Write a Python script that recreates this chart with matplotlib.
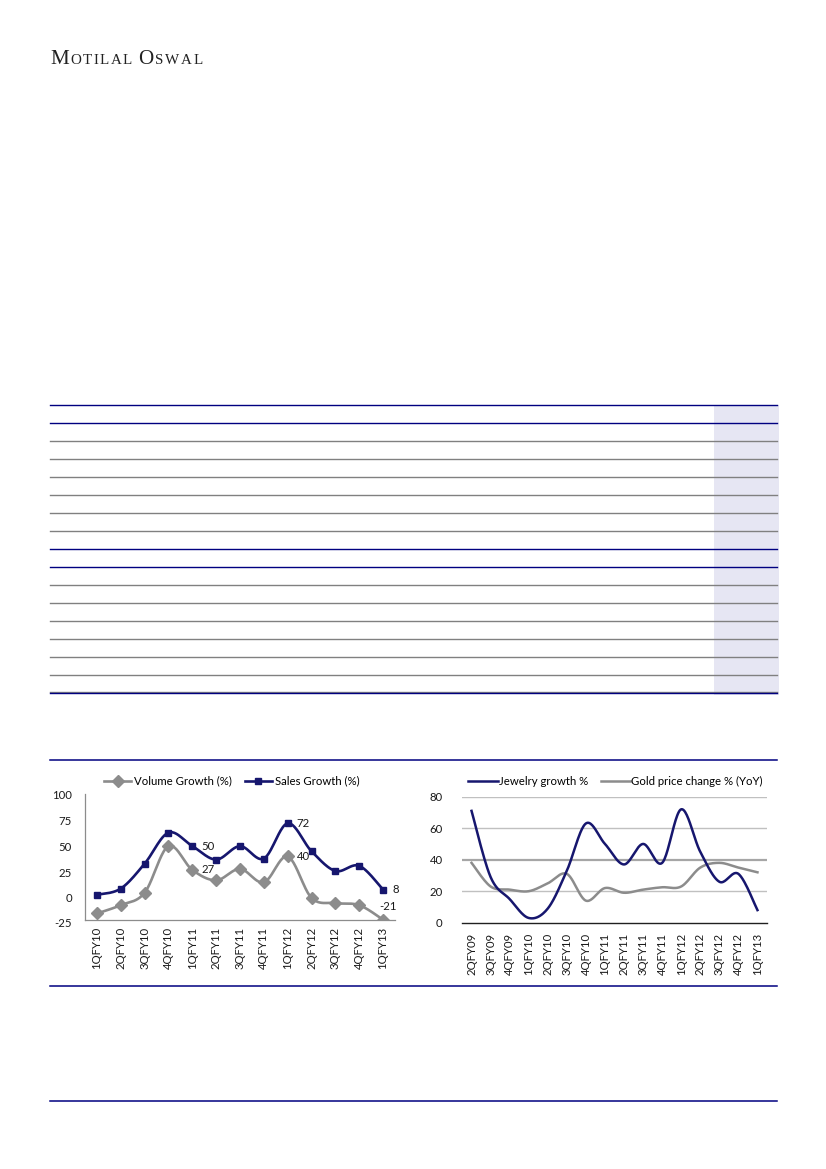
import numpy as np
import matplotlib
matplotlib.use("Agg")
import matplotlib.pyplot as plt
from matplotlib.lines import Line2D
from matplotlib.transforms import offset_copy

plt.rcParams['font.family'] = ['Lato', 'DejaVu Sans']

# ---------------- data ----------------
left_quarters = ["1QFY10", "2QFY10", "3QFY10", "4QFY10", "1QFY11", "2QFY11", "3QFY11",
                 "4QFY11", "1QFY12", "2QFY12", "3QFY12", "4QFY12", "1QFY13"]
volume_growth = [-15, -7, 5, 50, 27, 17, 28, 15, 40, 0, -5, -7, -21]
sales_growth = [3, 9, 33, 63, 50, 37, 50, 38, 72, 45, 26, 31, 8]
left_labels_sales = {4: "50", 8: "72", 12: "8"}
left_labels_volume = {4: "27", 8: "40"}
left_yticks = [100, 75, 50, 25, 0, -25]

right_quarters = ["2QFY09", "3QFY09", "4QFY09", "1QFY10", "2QFY10", "3QFY10", "4QFY10",
                  "1QFY11", "2QFY11", "3QFY11", "4QFY11", "1QFY12", "2QFY12", "3QFY12",
                  "4QFY12", "1QFY13"]
jewelry_growth = [71, 29, 15, 3, 9, 33, 63, 50, 37, 50, 38, 72, 45, 26, 31, 8]
gold_price_change = [38, 23, 21, 20, 25, 31, 14, 22, 19, 21, 22.5, 23, 35, 38, 35, 32]
right_yticks = [0, 20, 40, 60, 80]

NAVY = '#16166e'
GREY = '#8c8c8c'
TXT = '#1a1a1a'
FS = 8.2

W, H = 826, 1169
fig = plt.figure(figsize=(W / 100, H / 100), dpi=100)


def smooth(xs, ys, n=24):
    xs = np.asarray(xs, float)
    ys = np.asarray(ys, float)
    px = np.concatenate([[xs[0]], xs, [xs[-1]]])
    py = np.concatenate([[ys[0]], ys, [ys[-1]]])
    outx, outy = [], []
    t = np.linspace(0, 1, n, endpoint=False)
    for i in range(1, len(px) - 2):
        for P, out in ((px, outx), (py, outy)):
            p0, p1, p2, p3 = P[i - 1], P[i], P[i + 1], P[i + 2]
            c1 = p1 + (p2 - p0) / 6.0
            c2 = p2 - (p3 - p1) / 6.0
            b = ((1 - t) ** 3) * p1 + 3 * ((1 - t) ** 2) * t * c1 + 3 * (1 - t) * t ** 2 * c2 + t ** 3 * p2
            out.extend(b)
    outx.append(xs[-1])
    outy.append(ys[-1])
    return np.array(outx), np.array(outy)


def px_axes(x0, y0, x1, y1, **kw):
    return fig.add_axes([x0 / W, 1 - y1 / H, (x1 - x0) / W, (y1 - y0) / H], **kw)


# ---------------- page layout layer ----------------
bg = fig.add_axes([0, 0, 1, 1])
bg.set_xlim(0, W)
bg.set_ylim(H, 0)
bg.axis('off')


def small_caps(x, y, word_parts, big=15.2, small=10.8, track=1.5):
    r = fig.canvas.get_renderer()
    for part in word_parts:
        for k, ch in enumerate(part):
            size = big if k == 0 else small
            t = bg.text(x, y, ch.upper(), fontsize=size, family='Liberation Serif',
                        color='#222222', va='baseline', ha='left')
            bb = t.get_window_extent(renderer=r)
            x += bb.width + track
        x += 5


small_caps(50, 64, ["Motilal", "Oswal"])

# table skeleton
tbl_x0, tbl_x1 = 50, 777
row_y0, row_step, n_lines = 404.5, 18, 17
navy_rows = {0, 1, 8, 9}
bg.add_patch(plt.Rectangle((714, row_y0), 65, row_step * (n_lines - 1) + 2,
                           facecolor='#e6e6f3', edgecolor='none', zorder=0))
for i in range(n_lines):
    yy = row_y0 + i * row_step
    if i == n_lines - 1:
        bg.plot([tbl_x0, tbl_x1], [yy - 0.6, yy - 0.6], color='#808080', lw=1.0, zorder=2)
        bg.plot([tbl_x0, tbl_x1], [yy + 0.9, yy + 0.9], color='#000080', lw=1.0, zorder=2)
    else:
        c = '#000080' if i in navy_rows else '#808080'
        bg.plot([tbl_x0, tbl_x1], [yy, yy], color=c, lw=1.0, zorder=2)

# chart frame lines and footer
for yy in (759.5, 985.5, 1100.5):
    bg.plot([tbl_x0, tbl_x1], [yy, yy], color='#000080', lw=1.1)

# ---------------- left chart ----------------
ax1 = px_axes(85, 794.3, 395, 920)
xl = np.arange(len(left_quarters))
vx, vy = smooth(xl, volume_growth)
sx, sy = smooth(xl, sales_growth)
ax1.plot(vx, vy, color=GREY, lw=1.9, zorder=2)
ax1.plot(xl, volume_growth, ls='none', marker='D', ms=5.8, color=GREY, zorder=3)
ax1.plot(sx, sy, color=NAVY, lw=1.9, zorder=4)
ax1.plot(xl, sales_growth, ls='none', marker='s', ms=5.0, color=NAVY, zorder=5)
ax1.set_xlim(-0.5, len(left_quarters) - 0.5)
ax1.set_ylim(-21.3, 100)
ax1.set_yticks([v for v in left_yticks if v >= -21])
ax1.set_yticklabels([str(v) for v in left_yticks if v >= -21])
ax1.text(-0.5, left_yticks[-1], str(left_yticks[-1]),
         transform=offset_copy(ax1.transData, fig=fig, x=-9.5, y=0, units='points'),
         ha='right', va='center', fontsize=FS, color=TXT, clip_on=False)
ax1.set_xticks(xl)
ax1.set_xticklabels(left_quarters, rotation=90, fontsize=FS, color=TXT)
for s in ('top', 'right'):
    ax1.spines[s].set_visible(False)
for s in ('left', 'bottom'):
    ax1.spines[s].set_color('#8c8c8c')
    ax1.spines[s].set_linewidth(0.9)
ax1.tick_params(axis='y', length=0, pad=9.5, labelsize=FS, labelcolor=TXT)
ax1.tick_params(axis='x', length=0, pad=5)
ax1.set_facecolor('none')

for i, s in left_labels_sales.items():
    ax1.annotate(s, (xl[i], sales_growth[i]), xytext=(9, 0), textcoords='offset pixels',
                 ha='left', va='center', fontsize=FS, color=TXT)
for i, s in left_labels_volume.items():
    ax1.annotate(s, (xl[i], volume_growth[i]), xytext=(9, 0), textcoords='offset pixels',
                 ha='left', va='center', fontsize=FS, color=TXT)
ax1.annotate(str(volume_growth[-1]), (xl[-1], volume_growth[-1]), xytext=(-4, 13),
             textcoords='offset pixels', ha='left', va='center', fontsize=FS, color=TXT)

h1 = [Line2D([], [], color=GREY, lw=1.9, marker='D', ms=5.8),
      Line2D([], [], color=NAVY, lw=1.9, marker='s', ms=5.0)]
fig.legend(h1, ["Volume Growth (%)", "Sales Growth (%)"], ncol=2, frameon=False,
           loc='center left', bbox_to_anchor=(104 / W, 1 - 781 / H), fontsize=FS,
           handlelength=2.4, handletextpad=0.25, columnspacing=1.1, borderaxespad=0,
           borderpad=0)

# ---------------- right chart ----------------
ax2 = px_axes(462, 796.7, 767, 922.7)
xr = np.arange(len(right_quarters))
jx, jy = smooth(xr, jewelry_growth)
gx, gy = smooth(xr, gold_price_change)
for v in right_yticks[1:]:
    ax2.axhline(v, color='#a6a6a6' if v == 40 else '#c0c0c0', lw=1.6 if v == 40 else 1.0, zorder=0)
ax2.plot(gx, gy, color=GREY, lw=1.8, zorder=2)
ax2.plot(jx, jy, color=NAVY, lw=1.8, zorder=3)
ax2.set_xlim(-0.5, len(right_quarters) - 0.5)
ax2.set_ylim(0, 80)
ax2.set_yticks(right_yticks)
ax2.set_xticks(xr)
ax2.set_xticklabels(right_quarters, rotation=90, fontsize=FS, color=TXT)
for s in ('top', 'right', 'left'):
    ax2.spines[s].set_visible(False)
ax2.spines['bottom'].set_color('#202020')
ax2.spines['bottom'].set_linewidth(1.0)
ax2.tick_params(axis='y', length=0, pad=14, labelsize=FS, labelcolor=TXT)
ax2.tick_params(axis='x', length=0, pad=7)
ax2.set_facecolor('none')

h2 = [Line2D([], [], color=NAVY, lw=1.8), Line2D([], [], color=GREY, lw=1.8)]
fig.legend(h2, ["Jewelry growth %", "Gold price change % (YoY)"], ncol=2, frameon=False,
           loc='center left', bbox_to_anchor=(468 / W, 1 - 781 / H), fontsize=FS,
           handlelength=2.6, handletextpad=0.1, columnspacing=1.1, borderaxespad=0,
           borderpad=0)

fig.savefig("out.png", dpi=100)
